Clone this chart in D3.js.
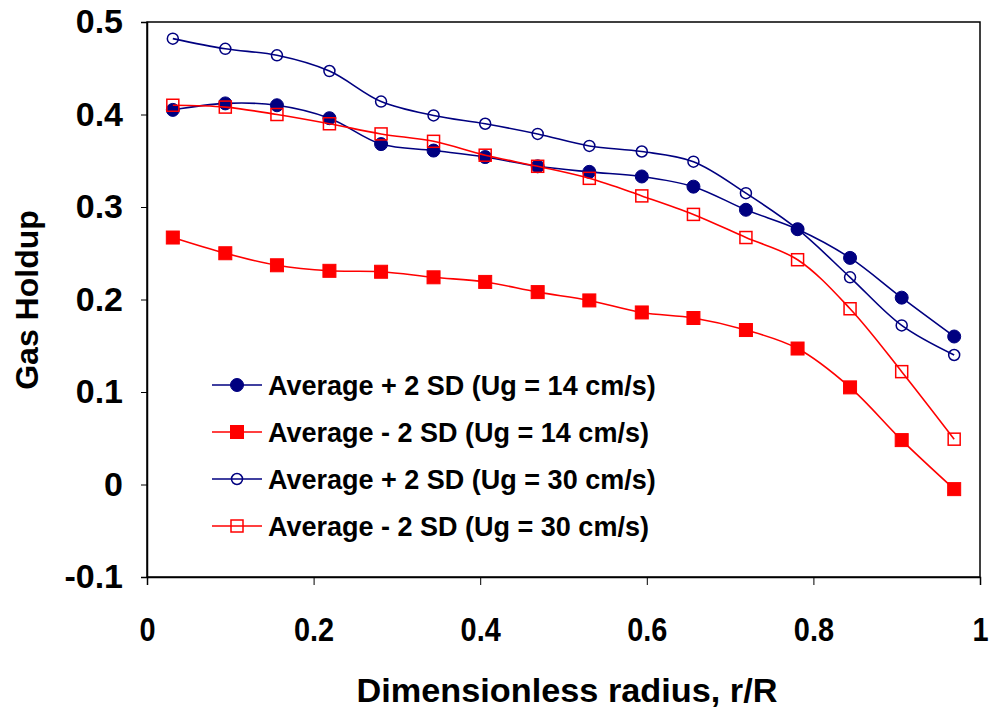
<!DOCTYPE html>
<html>
<head>
<meta charset="utf-8">
<script src="https://cdn.jsdelivr.net/npm/d3@7"></script>
<style>
  html, body { margin: 0; padding: 0; background: #fff; }
  svg { display: block; font-family: "Liberation Sans", Arial, sans-serif; font-weight: bold; }
</style>
</head>
<body>
<svg id="chart" width="992" height="710"></svg>
<script>
// Radial positions: centres of 16 equal-width rings
const radius = [0.031, 0.094, 0.156, 0.219, 0.281, 0.344, 0.406, 0.469,
                0.531, 0.594, 0.656, 0.719, 0.781, 0.844, 0.906, 0.969];

// Gas holdup bounds (average +/- 2 standard deviations)
const plus14  = [0.405, 0.412, 0.410, 0.396, 0.368, 0.361, 0.354, 0.344,
                 0.338, 0.333, 0.322, 0.297, 0.276, 0.245, 0.202, 0.160];
const minus14 = [0.267, 0.250, 0.237, 0.231, 0.230, 0.224, 0.219, 0.208,
                 0.199, 0.186, 0.180, 0.167, 0.147, 0.105, 0.048, -0.005];
const plus30  = [0.482, 0.471, 0.464, 0.447, 0.414, 0.399, 0.390, 0.379,
                 0.366, 0.360, 0.349, 0.315, 0.276, 0.224, 0.172, 0.140];
const minus30 = [0.410, 0.408, 0.400, 0.390, 0.379, 0.371, 0.356, 0.344,
                 0.331, 0.312, 0.292, 0.267, 0.243, 0.190, 0.122, 0.049];

const seriesNames = ["Average + 2 SD (Ug = 14 cm/s)", "Average - 2 SD (Ug = 14 cm/s)",
                     "Average + 2 SD (Ug = 30 cm/s)", "Average - 2 SD (Ug = 30 cm/s)"];

const xTicks = [0, 0.2, 0.4, 0.6, 0.8, 1];
const xTickLabels = ["0", "0.2", "0.4", "0.6", "0.8", "1"];
const yTicks = [-0.1, 0, 0.1, 0.2, 0.3, 0.4, 0.5];
const yTickLabels = ["-0.1", "0", "0.1", "0.2", "0.3", "0.4", "0.5"];

const series = [
  { name: seriesNames[0], values: plus14,  color: "#000080", shape: "circle", filled: true },
  { name: seriesNames[1], values: minus14, color: "#FF0000", shape: "square", filled: true },
  { name: seriesNames[2], values: plus30,  color: "#000080", shape: "circle", filled: false },
  { name: seriesNames[3], values: minus30, color: "#FF0000", shape: "square", filled: false }
];

const svg = d3.select("#chart");
const plot = { left: 147, right: 980, top: 22, bottom: 577 };

const x = d3.scaleLinear().domain([0, 1]).range([plot.left, plot.right]);
const y = d3.scaleLinear().domain([-0.1, 0.5]).range([plot.bottom, plot.top]);

// Frame
svg.append("rect")
  .attr("x", plot.left).attr("y", plot.top)
  .attr("width", plot.right - plot.left).attr("height", plot.bottom - plot.top)
  .attr("fill", "none").attr("stroke", "#000").attr("stroke-width", 1.5);

const font = "'Liberation Sans', Arial, sans-serif";

// Y axis
const yAxis = svg.append("g")
  .attr("transform", `translate(${plot.left},0)`)
  .call(d3.axisLeft(y).tickValues(yTicks).tickSize(6).tickPadding(18)
    .tickFormat((d, i) => yTickLabels[i]));
yAxis.select(".domain").attr("stroke", "#000").attr("stroke-width", 1.5);
yAxis.selectAll(".tick line").attr("stroke", "#000");
yAxis.selectAll(".tick text")
  .attr("font-size", 34).attr("font-weight", "bold").attr("fill", "#000")
  .attr("font-family", font);

// X axis (labels slightly condensed)
const xAxis = svg.append("g")
  .attr("transform", `translate(0,${plot.bottom})`)
  .call(d3.axisBottom(x).tickValues(xTicks).tickSize(8).tickPadding(32)
    .tickFormat((d, i) => xTickLabels[i]));
xAxis.select(".domain").attr("stroke", "#000").attr("stroke-width", 1.5);
xAxis.selectAll(".tick line").attr("stroke", "#000");
xAxis.selectAll(".tick text")
  .attr("font-size", 34).attr("font-weight", "bold").attr("fill", "#000")
  .attr("font-family", font)
  .attr("transform", "scale(0.85,1)");

// Axis titles
svg.append("text")
  .attr("x", 567).attr("y", 702)
  .attr("text-anchor", "middle").attr("font-size", 34)
  .attr("textLength", 421).attr("lengthAdjust", "spacingAndGlyphs")
  .text("Dimensionless radius, r/R");

svg.append("text")
  .attr("transform", `translate(38,300) rotate(-90)`)
  .attr("text-anchor", "middle").attr("font-size", 32)
  .text("Gas Holdup");

// Smoothed series lines
const line = d3.line()
  .x((d, i) => x(radius[i]))
  .y(d => y(d))
  .curve(d3.curveCatmullRom.alpha(0.5));

function drawMarker(g, s, cx, cy) {
  if (s.shape === "circle") {
    g.append("circle")
      .attr("cx", cx).attr("cy", cy).attr("r", s.filled ? 6.5 : 5.5)
      .attr("fill", s.filled ? s.color : "none")
      .attr("stroke", s.color).attr("stroke-width", s.filled ? 1 : 1.5);
  } else {
    const h = s.filled ? 6.5 : 6;
    g.append("rect")
      .attr("x", cx - h).attr("y", cy - h).attr("width", 2 * h).attr("height", 2 * h)
      .attr("fill", s.filled ? s.color : "none")
      .attr("stroke", s.color).attr("stroke-width", s.filled ? 1 : 1.5);
  }
}

series.forEach(s => {
  const g = svg.append("g");
  g.append("path")
    .datum(s.values)
    .attr("d", line)
    .attr("fill", "none").attr("stroke", s.color).attr("stroke-width", 1.6);
  s.values.forEach((v, i) => drawMarker(g, s, x(radius[i]), y(v)));
});

// Legend
const legend = svg.append("g");
series.forEach((s, i) => {
  const cy = 385 + i * 47;
  legend.append("line")
    .attr("x1", 212).attr("x2", 262).attr("y1", cy).attr("y2", cy)
    .attr("stroke", s.color).attr("stroke-width", 1.6);
  drawMarker(legend, s, 237, cy);
  legend.append("text")
    .attr("x", 268).attr("y", cy).attr("dy", "0.36em")
    .attr("font-size", 27)
    .text(s.name);
});
</script>
</body>
</html>
